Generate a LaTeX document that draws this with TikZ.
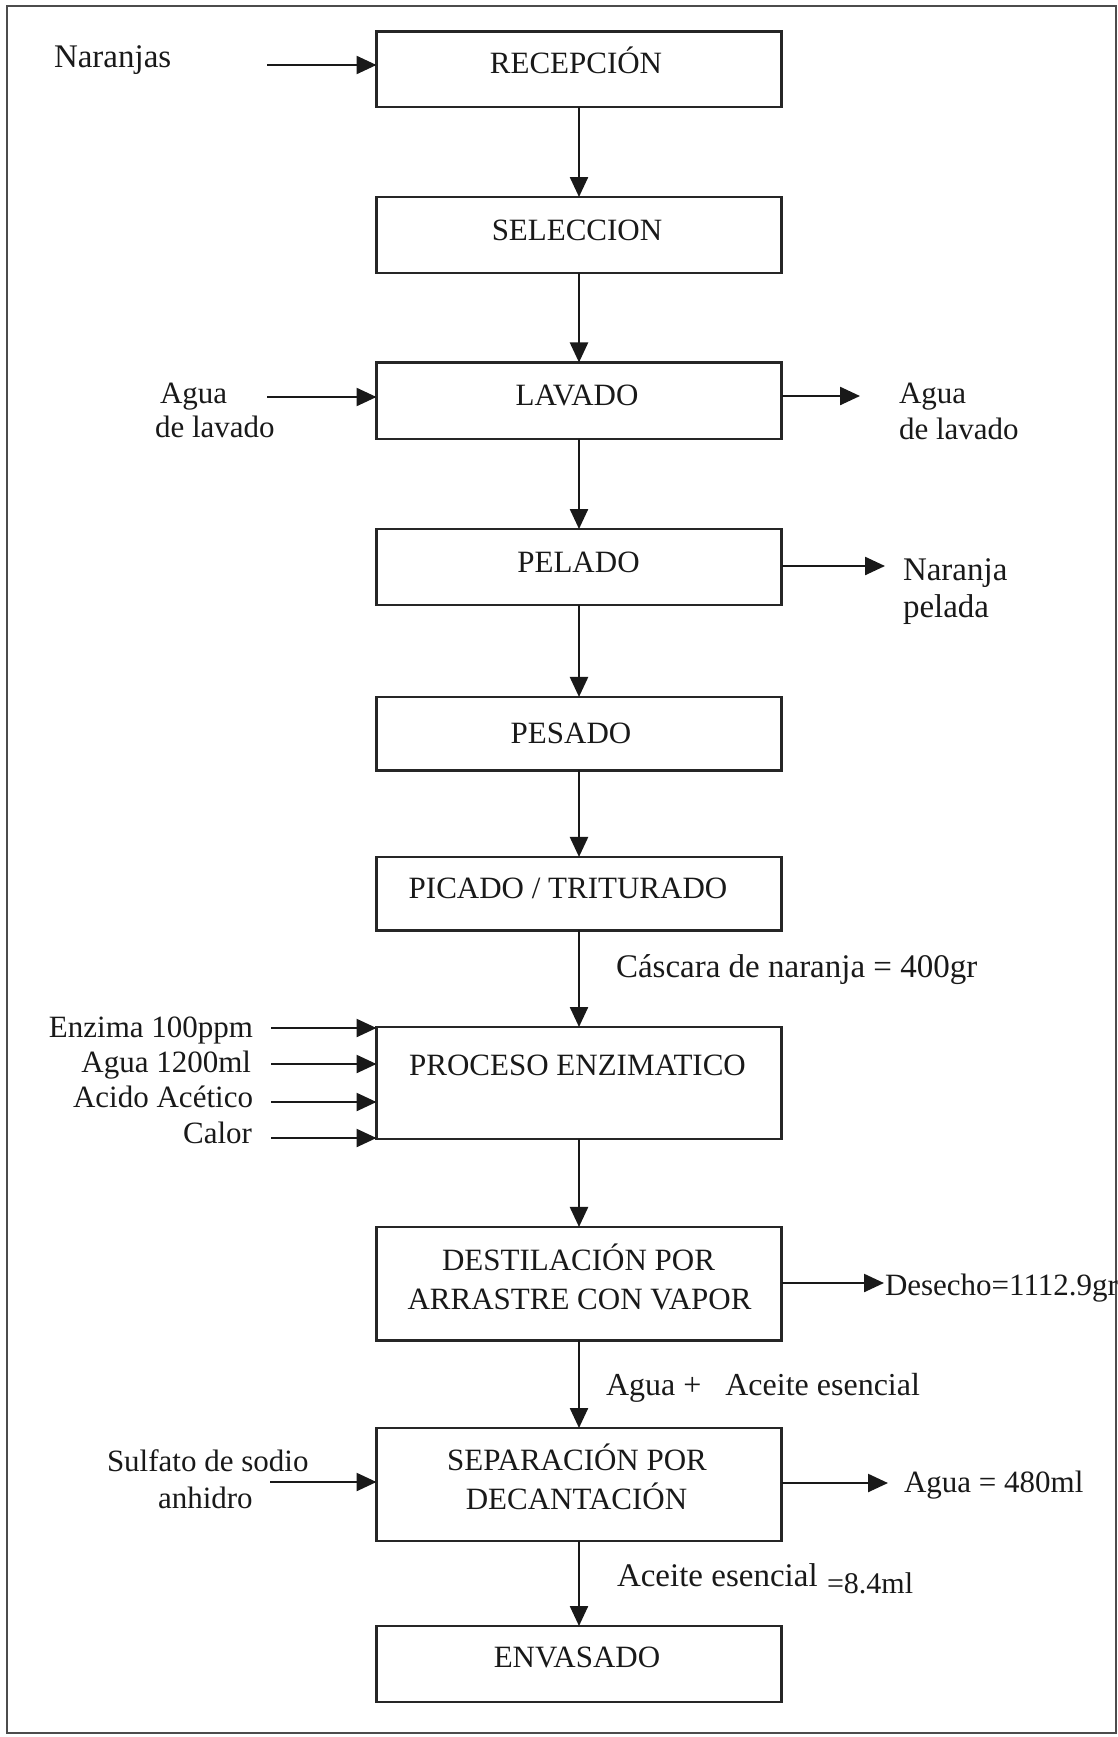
\documentclass[tikz,border=0pt]{standalone}
\usepackage{fontspec}
\setmainfont{Liberation Serif}
\usetikzlibrary{arrows.meta}
\begin{document}
\begin{tikzpicture}[x=1pt,y=-1pt,
  box/.style={rectangle,draw=black!85,line width=2.6pt,minimum width=405pt,inner sep=0pt,outer sep=0pt},
  btext/.style={anchor=base,inner sep=0pt,outer sep=0pt,text=black!90,font=\fontsize{31}{37}\selectfont},
  lab/.style={anchor=base west,inner sep=0pt,outer sep=0pt,text=black!90,font=\fontsize{31}{37}\selectfont},
  labbig/.style={lab,font=\fontsize{33}{39}\selectfont},
  rlab/.style={lab,anchor=base east},
  flow/.style={draw=black!90,line width=2.4pt,-{Triangle[length=20pt,width=18pt]}},
  frame/.style={draw=black!70,line width=2.8pt}
]
\useasboundingbox (0,0) rectangle (1118,1737);
\draw[frame] (7,6) rectangle (1116,1733);

% process boxes
\node[box,minimum height=75.5pt] (recep) at (579,69.3) {};
\node[box,minimum height=76pt]   (selec) at (579,235) {};
\node[box,minimum height=76.5pt] (lavado) at (579,400.7) {};
\node[box,minimum height=76pt]   (pelado) at (579,567) {};
\node[box,minimum height=73.5pt] (pesado) at (579,733.7) {};
\node[box,minimum height=73.5pt] (picado) at (579,893.7) {};
\node[box,minimum height=112pt]  (proceso) at (579,1083) {};
\node[box,minimum height=113.5pt] (destil) at (579,1283.7) {};
\node[box,minimum height=113pt]  (separ) at (579,1484.5) {};
\node[box,minimum height=76pt]   (envas) at (579,1664) {};

% box texts
\node[btext] (recep-t) at (576,74) {RECEPCIÓN};
\node[btext] (selec-t) at (577,240) {SELECCION};
\node[btext] (lav-t) at (577,405) {LAVADO};
\node[btext] (pel-t) at (578.5,572) {PELADO};
\node[btext] (pes-t) at (571,743) {PESADO};
\node[btext] (pic-t) at (568,898) {PICADO / TRITURADO};
\node[btext] (pro-t) at (577.5,1075) {PROCESO ENZIMATICO};
\node[btext] (des-t1) at (578.5,1270) {DESTILACIÓN POR};
\node[btext] (des-t2) at (579.5,1309) {ARRASTRE CON VAPOR};
\node[btext] (sep-t1) at (577,1470) {SEPARACIÓN POR};
\node[btext] (sep-t2) at (576.5,1509) {DECANTACIÓN};
\node[btext] (env-t) at (577,1667) {ENVASADO};

% main flow
\draw[flow] (recep) -- (selec);
\draw[flow] (selec) -- (lavado);
\draw[flow] (lavado) -- (pelado);
\draw[flow] (pelado) -- (pesado);
\draw[flow] (pesado) -- (picado);
\draw[flow] (picado) -- (proceso);
\draw[flow] (proceso) -- (destil);
\draw[flow] (destil) -- (separ);
\draw[flow] (separ) -- (envas);

% side labels
\node[labbig] (l-nar) at (54,67) {Naranjas};
\node[lab] (l-agua1) at (160,403) {Agua};
\node[lab] (l-lav1) at (155,437) {de lavado};
\node[lab] (l-agua2) at (899,403) {Agua};
\node[lab] (l-lav2) at (899,439) {de lavado};
\node[labbig] (l-naranja) at (903,580) {Naranja};
\node[labbig] (l-pelada) at (903,617) {pelada};
\node[labbig] (l-cascara) at (616,977) {Cáscara de naranja = 400gr};
\node[rlab] (l-enz) at (253,1037) {Enzima 100ppm};
\node[rlab] (l-agua3) at (251,1072) {Agua 1200ml};
\node[rlab] (l-acido) at (253,1107) {Acido Acético};
\node[rlab] (l-calor) at (252,1143) {Calor};
\node[lab] (l-desecho) at (885,1295) {Desecho=1112.9gr};
\node[lab,font=\fontsize{32}{38}\selectfont] (l-aguaac) at (606,1395) {Agua + \ \ Aceite esencial};
\node[lab] (l-sulf) at (107,1471) {Sulfato de sodio};
\node[lab] (l-anh) at (158,1508) {anhidro};
\node[lab] (l-agua480) at (904,1492) {Agua = 480ml};
\node[labbig] (l-aceite) at (617,1586) {Aceite esencial};
\node[lab,font=\fontsize{30}{36}\selectfont] (l-84) at (827,1593) {=8.4ml};

% side inputs / outputs
\coordinate (in-nar) at (267,65);
\draw[flow] (in-nar) -- (in-nar -| recep.west);
\coordinate (in-lav) at (267,397);
\draw[flow] (in-lav) -- (in-lav -| lavado.west);
\coordinate (out-lav) at (860,396);
\draw[flow] (out-lav -| lavado.east) -- (out-lav);
\coordinate (out-pel) at (885,566);
\draw[flow] (out-pel -| pelado.east) -- (out-pel);
\coordinate (in-enz) at (271,1028);
\draw[flow] (in-enz) -- (in-enz -| proceso.west);
\coordinate (in-agua) at (271,1064);
\draw[flow] (in-agua) -- (in-agua -| proceso.west);
\coordinate (in-acido) at (271,1102);
\draw[flow] (in-acido) -- (in-acido -| proceso.west);
\coordinate (in-calor) at (271,1138);
\draw[flow] (in-calor) -- (in-calor -| proceso.west);
\coordinate (out-des) at (884,1283);
\draw[flow] (out-des -| destil.east) -- (out-des);
\coordinate (in-sep) at (270,1482);
\draw[flow] (in-sep) -- (in-sep -| separ.west);
\coordinate (out-sep) at (888,1483);
\draw[flow] (out-sep -| separ.east) -- (out-sep);
\end{tikzpicture}
\end{document}
